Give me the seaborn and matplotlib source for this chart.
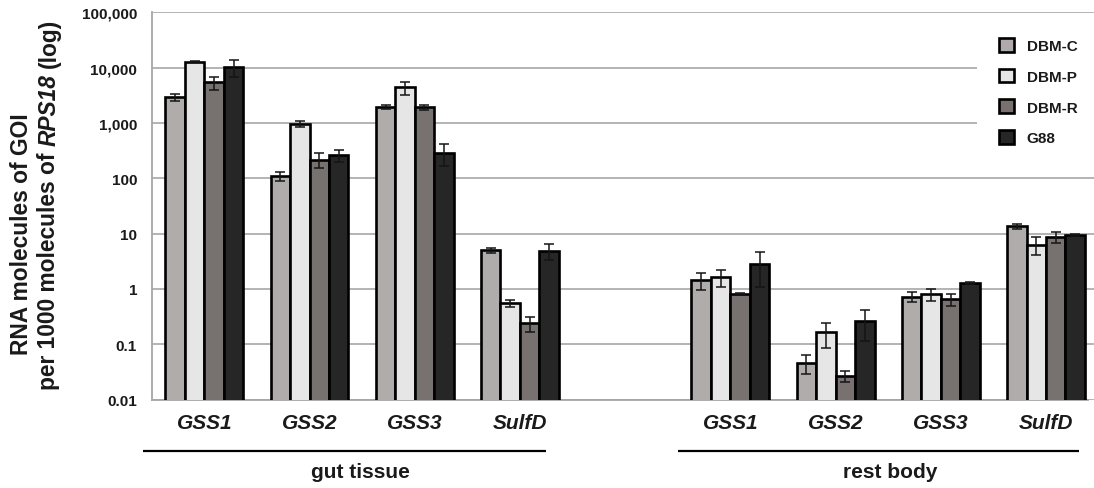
import matplotlib
matplotlib.use("Agg")
import matplotlib.pyplot as plt
import matplotlib.transforms as mtransforms
from matplotlib.patches import Patch
from matplotlib.ticker import FixedLocator, NullLocator, FixedFormatter
import seaborn as sns
import pandas as pd
import numpy as np

# ---------------- data ----------------
genes = ["GSS1", "GSS2", "GSS3", "SulfD"]
tissues = ["gut tissue", "rest body"]
strains = ["DBM-C", "DBM-P", "DBM-R", "G88"]

gut_DBM_C = [2900, 110, 1950, 5.0]
gut_DBM_P = [12700, 975, 4380, 0.55]
gut_DBM_R = [5400, 217, 1910, 0.24]
gut_G88 = [10300, 263, 290, 4.9]

gut_err_DBM_C = [450, 22, 150, 0.5]
gut_err_DBM_P = [200, 130, 1200, 0.08]
gut_err_DBM_R = [1400, 65, 180, 0.075]
gut_err_G88 = [3600, 65, 125, 1.6]

rest_DBM_C = [1.47, 0.046, 0.72, 13.5]
rest_DBM_P = [1.63, 0.165, 0.81, 6.3]
rest_DBM_R = [0.81, 0.027, 0.65, 8.8]
rest_G88 = [2.83, 0.264, 1.27, 9.3]

rest_err_DBM_C = [0.5, 0.017, 0.14, 1.2]
rest_err_DBM_P = [0.55, 0.08, 0.2, 2.2]
rest_err_DBM_R = [0.04, 0.006, 0.16, 2.0]
rest_err_G88 = [1.75, 0.15, 0.05, 0.4]

ytick_values = [0.01, 0.1, 1, 10, 100, 1000, 10000, 100000]
ytick_labels = ["0.01", "0.1", "1", "10", "100", "1,000", "10,000", "100,000"]

colors = {"DBM-C": "#b0abaa", "DBM-P": "#e6e6e6", "DBM-R": "#78716f", "G88": "#262626"}

# ---------------- table ----------------
vals = {
    "gut tissue": [gut_DBM_C, gut_DBM_P, gut_DBM_R, gut_G88],
    "rest body": [rest_DBM_C, rest_DBM_P, rest_DBM_R, rest_G88],
}
errs = {
    "gut tissue": [gut_err_DBM_C, gut_err_DBM_P, gut_err_DBM_R, gut_err_G88],
    "rest body": [rest_err_DBM_C, rest_err_DBM_P, rest_err_DBM_R, rest_err_G88],
}
order = [f"gut tissue|{g}" for g in genes] + ["gap"] + [f"rest body|{g}" for g in genes]
rows = []
for t in tissues:
    for si, s in enumerate(strains):
        for gi, g in enumerate(genes):
            rows.append({"slot": f"{t}|{g}", "strain": s,
                         "value": vals[t][si][gi], "err": errs[t][si][gi]})
df = pd.DataFrame(rows)
err_lookup = {(r.slot, r.strain): r.err for r in df.itertuples()}

# ---------------- style ----------------
sns.set_style("white")
plt.rcParams["font.family"] = ["Liberation Sans", "DejaVu Sans"]
TXT = "#1a1a1a"

fig = plt.figure(figsize=(10.94, 4.89), dpi=100)
L, B, T = 151.7 / 1094, 1 - 400.5 / 489, 1 - 13.3 / 489
ax = fig.add_axes([L, B, 1 - L, T - B])

bar_width = 0.74
sns.barplot(data=df, x="slot", y="value", hue="strain", order=order,
            hue_order=strains, palette=colors, width=bar_width,
            edgecolor="black", linewidth=1.9, errorbar=None,
            log_scale=(False, True), legend=False, ax=ax, zorder=3)
ax.set_yscale("log", nonpositive="clip")

ax.set_ylim(0.01, 100000)
ax.set_xlim(-0.5, 8.456)

# error bars, positioned from the drawn bars
nh = len(strains)
for p in ax.patches:
    h = p.get_y() + p.get_height()
    if not np.isfinite(h) or h <= 0:
        continue
    xc = p.get_x() + p.get_width() / 2
    ci = int(round(xc))
    hi = int((xc - ci + bar_width / 2) / (bar_width / nh))
    key = (order[ci], strains[hi])
    if key in err_lookup:
        ax.errorbar(xc, h, yerr=err_lookup[key], fmt="none", ecolor="#151515",
                    elinewidth=1.1, capsize=3.6, capthick=1.1, zorder=4)

# axes styling
ax.yaxis.set_major_locator(FixedLocator(ytick_values))
ax.yaxis.set_major_formatter(FixedFormatter(ytick_labels))
ax.yaxis.set_minor_locator(NullLocator())
ax.yaxis.grid(True, color="#b3b3b3", linewidth=1.4)
ax.xaxis.grid(False)
ax.set_axisbelow(True)
for s in ["top", "right"]:
    ax.spines[s].set_visible(False)
ax.spines["left"].set_color("#a6a6a6")
ax.spines["left"].set_linewidth(1.3)
ax.spines["bottom"].set_color("#a6a6a6")
ax.spines["bottom"].set_linewidth(1.3)
ax.spines["bottom"].set_bounds(-0.5, 8.4)
ax.tick_params(axis="y", which="major", length=8, width=1.2, color="#a6a6a6",
               pad=2.5, labelsize=11, labelcolor=TXT)
for lab in ax.get_yticklabels():
    lab.set_fontweight("bold")

xlabels = genes + [""] + genes
ax.xaxis.set_major_locator(FixedLocator(list(range(len(order)))))
ax.xaxis.set_major_formatter(FixedFormatter(xlabels))
ax.xaxis.set_minor_locator(FixedLocator([i + 0.4 for i in range(len(order))]))
ax.tick_params(axis="x", which="major", length=0, pad=9.5, labelsize=15, labelcolor=TXT)
ax.tick_params(axis="x", which="minor", length=3.8, width=1.2, color="#a6a6a6", direction="out")
for lab in ax.get_xticklabels():
    lab.set_fontweight("bold")
    lab.set_fontstyle("italic")
ax.set_xlabel("")
ax.set_ylabel("")

# group brackets
trans = mtransforms.blended_transform_factory(ax.transData, fig.transFigure)
group_spans = [(-0.58, 3.25), (4.50, 8.31)]
group_centers = [1.487, 6.52]
for (x0, x1), xcen, t in zip(group_spans, group_centers, tissues):
    ax.plot([x0, x1], [1 - 451.7 / 489] * 2, color="black", lw=1.6,
            transform=trans, clip_on=False, solid_capstyle="butt")
    ax.text(xcen, 1 - 473 / 489, t, transform=trans, ha="center", va="center",
            fontsize=15, fontweight="bold", color=TXT)

# legend
handles = [Patch(facecolor=colors[s], edgecolor="black", linewidth=1.9) for s in strains]
leg = ax.legend(handles, strains, loc="upper left",
                bbox_to_anchor=(977 / 1094, 1 - 17 / 489), bbox_transform=fig.transFigure,
                prop={"weight": "bold", "size": 11}, handlelength=1.0, handleheight=1.0,
                handletextpad=0.8, labelspacing=1.02, borderpad=1.45, borderaxespad=0,
                frameon=True, fancybox=False, framealpha=1)
leg.get_frame().set_facecolor("white")
leg.get_frame().set_edgecolor("none")
for txt in leg.get_texts():
    txt.set_color(TXT)

# y label (two lines, with italic gene name)
FS = 16.4
fig.text(22 / 1094, 1 - 234 / 489, "RNA molecules of GOI", rotation=90,
         ha="center", va="center", fontsize=FS, fontweight="bold", color=TXT)
ta = fig.text(49 / 1094, 1 - 390 / 489, "per 1000 molecules of", rotation=90,
              ha="center", va="bottom", fontsize=FS, fontweight="bold", color=TXT)
sp = 0.278 * FS
tb = ax.annotate("RPS18", xy=(0.5, 1), xycoords=ta, xytext=(0, sp),
                 textcoords="offset points", rotation=90, ha="center", va="bottom",
                 fontsize=FS, fontweight="bold", fontstyle="italic", color=TXT,
                 annotation_clip=False)
ax.annotate("(log)", xy=(0.5, 1), xycoords=tb, xytext=(0, sp),
            textcoords="offset points", rotation=90, ha="center", va="bottom",
            fontsize=FS, fontweight="bold", color=TXT, annotation_clip=False)

fig.savefig("out.png", dpi=100)
